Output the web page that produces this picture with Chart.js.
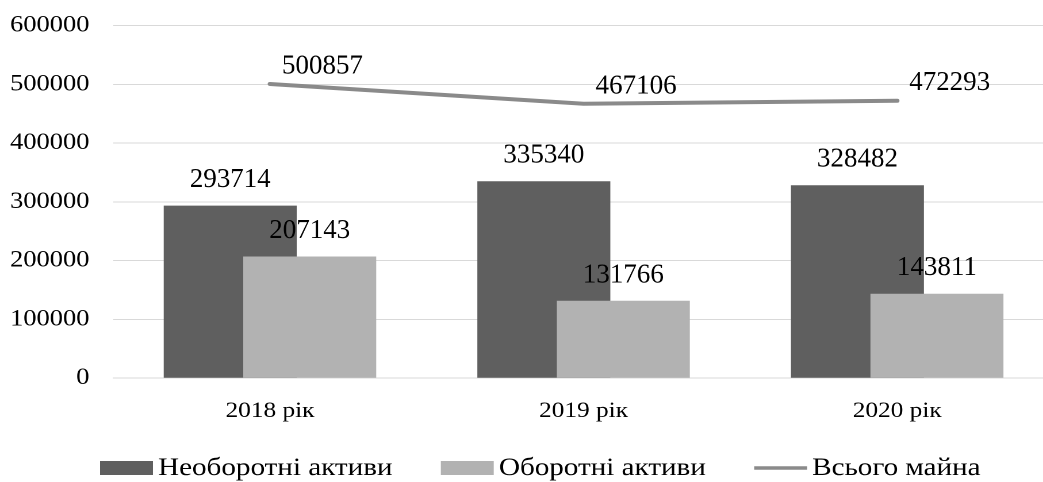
<!DOCTYPE html>
<html>
<head>
<meta charset="utf-8">
<script src="https://cdn.jsdelivr.net/npm/chart.js@4.4.1/dist/chart.umd.min.js"></script>
<style>
  html, body { margin: 0; padding: 0; background: #fff; overflow: hidden; }
  /* the source picture is stretched sideways, so the canvas is too */
  #chart { display: block; transform: scaleX(1.15); transform-origin: 0 0; }
</style>
</head>
<body>
<canvas id="chart" width="918" height="482"></canvas>
<script>
const years = ['2018 рік', '2019 рік', '2020 рік'];
const nonCurrent = [293714, 335340, 328482];
const current = [207143, 131766, 143811];
const totalAssets = [500857, 467106, 472293];
const yMin = 0;
const yMax = 600000;
const yStep = 100000;

const STRETCH = 1.15;
const FAMILY = "'Liberation Serif', 'Times New Roman', serif";

// draw bars dark -> light -> line, then the value labels on top
const valueLabels = {
  id: 'valueLabels',
  beforeDatasetsDraw(chart) {
    chart.data.datasets.forEach((ds, i) => chart.getDatasetMeta(i).controller.draw());
    return false;
  },
  afterDraw(chart) {
    const ctx = chart.ctx;
    ctx.save();
    ctx.font = '27px ' + FAMILY;
    ctx.fillStyle = '#000';
    ctx.textBaseline = 'alphabetic';
    chart.data.datasets.forEach((ds, i) => {
      const meta = chart.getDatasetMeta(i);
      meta.data.forEach((el, j) => {
        const text = String(ds.data[j]);
        ctx.save();
        ctx.translate(el.x, el.y);
        ctx.scale(1 / STRETCH, 1);
        if (meta.type === 'line') {
          ctx.textAlign = 'left';
          ctx.fillText(text, 12, -10.5);
        } else {
          ctx.textAlign = 'center';
          ctx.fillText(text, 0, -18.5);
        }
        ctx.restore();
      });
    });
    ctx.restore();
  }
};

// Excel-like legend: tight gap between symbol and text
const legendRow = {
  id: 'legendRow',
  afterDraw(chart) {
    const ctx = chart.ctx;
    let x = 87;
    ctx.save();
    ctx.font = '25.3px ' + FAMILY;
    ctx.textAlign = 'left';
    ctx.textBaseline = 'alphabetic';
    chart.data.datasets.forEach(ds => {
      if (ds.type === 'line') {
        ctx.strokeStyle = ds.borderColor;
        ctx.lineWidth = 3.5;
        ctx.beginPath();
        ctx.moveTo(x, 468);
        ctx.lineTo(x + 46, 468);
        ctx.stroke();
      } else {
        ctx.fillStyle = ds.backgroundColor;
        ctx.fillRect(x, 461, 46, 14);
      }
      x += 50.5;
      ctx.fillStyle = '#000';
      ctx.fillText(ds.label, x, 475);
      x += ctx.measureText(ds.label).width + 42;
    });
    ctx.restore();
  }
};

new Chart(document.getElementById('chart'), {
  data: {
    labels: years,
    datasets: [
      {
        type: 'bar',
        label: 'Необоротні активи',
        data: nonCurrent,
        backgroundColor: '#5f5f5f',
        categoryPercentage: 0.507,
        barPercentage: 1.673
      },
      {
        type: 'bar',
        label: 'Оборотні активи',
        data: current,
        backgroundColor: '#b2b2b2',
        categoryPercentage: 0.507,
        barPercentage: 1.673
      },
      {
        type: 'line',
        label: 'Всього майна',
        data: totalAssets,
        borderColor: '#8a8a8a',
        backgroundColor: '#8a8a8a',
        borderWidth: 4,
        borderCapStyle: 'round',
        tension: 0,
        pointRadius: 0
      }
    ]
  },
  options: {
    responsive: false,
    devicePixelRatio: 2,
    animation: false,
    layout: { padding: { top: 25.7, right: 1.5, bottom: 51.8, left: 0 } },
    scales: {
      x: {
        grid: { display: false, drawTicks: false },
        border: { color: '#d9d9d9', width: 1 },
        ticks: { padding: 20, color: '#000', font: { family: FAMILY, size: 22 } },
        afterFit(scale) { scale.height = 52; }
      },
      y: {
        min: yMin,
        max: yMax,
        border: { display: false },
        grid: { color: '#d9d9d9', drawTicks: false },
        ticks: {
          stepSize: yStep,
          padding: 20.7,
          color: '#000',
          font: { family: FAMILY, size: 23 },
          callback: v => v
        },
        afterFit(scale) {
          scale.width = 98.4;
          // tick padding should not push the plot down
          scale.paddingTop = 0;
          scale.paddingBottom = 0;
        }
      }
    },
    plugins: {
      legend: { display: false },
      tooltip: { enabled: false }
    }
  },
  plugins: [valueLabels, legendRow]
});
</script>
</body>
</html>
